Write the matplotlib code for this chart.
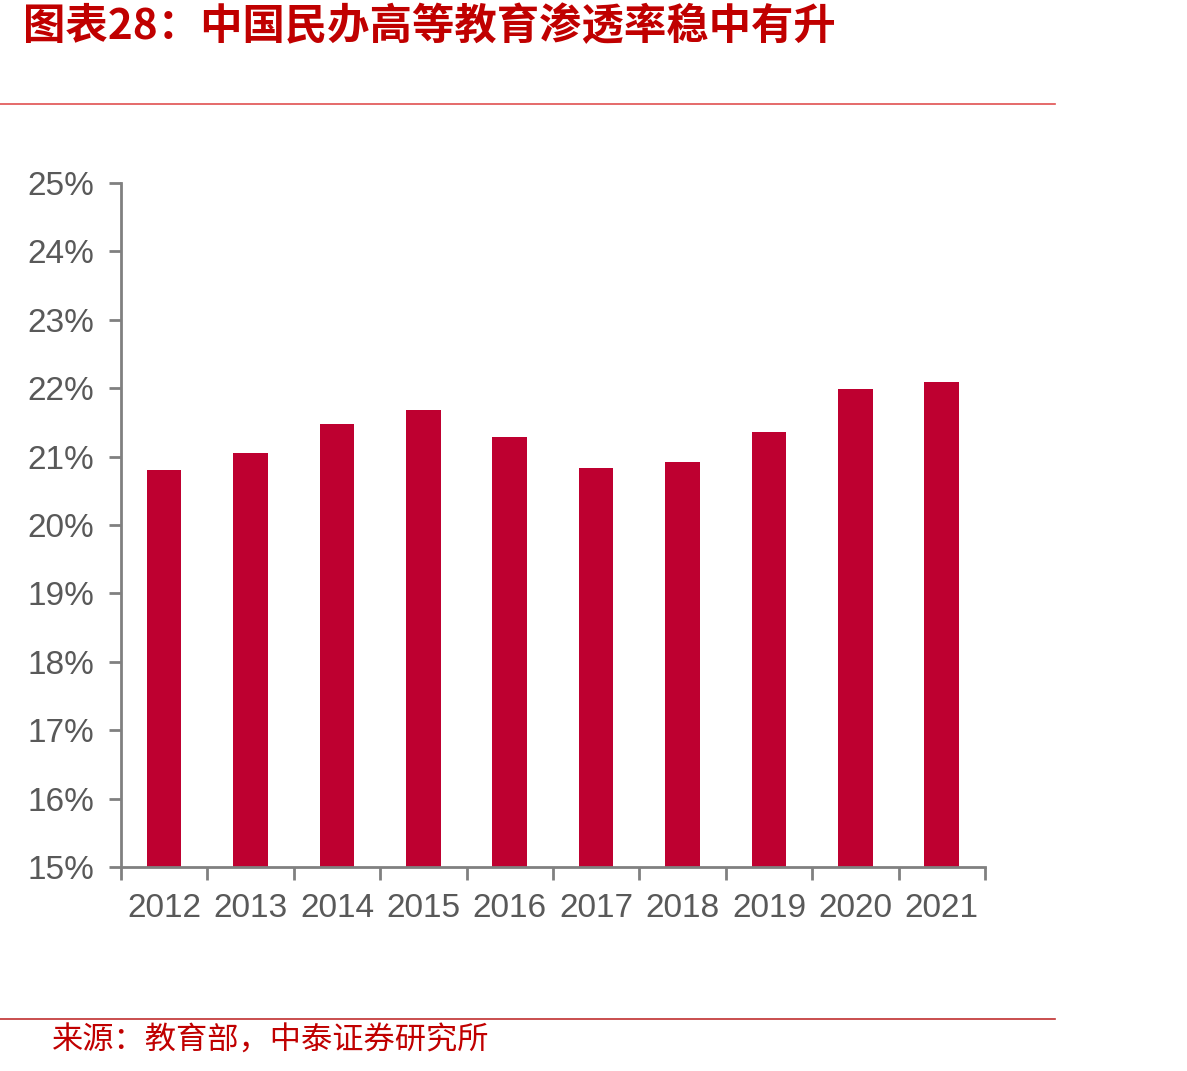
import matplotlib
matplotlib.use("Agg")
import matplotlib.pyplot as plt
import numpy as np

plt.rcParams['font.family'] = ['Liberation Sans', 'Noto Sans CJK SC', 'DejaVu Sans']

years = ["2012", "2013", "2014", "2015", "2016", "2017", "2018", "2019", "2020", "2021"]
rate = [20.80, 21.05, 21.48, 21.68, 21.29, 20.83, 20.92, 21.36, 21.99, 22.09]
y_ticks = [15, 16, 17, 18, 19, 20, 21, 22, 23, 24, 25]

title = "图表28：中国民办高等教育渗透率稳中有升"
source = "来源：教育部，中泰证券研究所"

fig = plt.figure(figsize=(11.87, 10.71), dpi=100)
ax = fig.add_axes([0.1019, 0.1905, 0.7279, 0.6386])

x = np.arange(len(years))
ax.bar(x, rate, width=0.4, color="#BE0030")

ax.set_xlim(-0.5, len(years) - 0.5)
ax.set_ylim(15, 25)
ax.set_yticks(y_ticks)
ax.set_yticklabels([f"{v}%" for v in y_ticks])
ax.set_xticks(np.arange(len(years) + 1) - 0.5)
ax.set_xticklabels([])
ax.set_xticks(x, minor=True)
ax.set_xticklabels(years, minor=True)
ax.tick_params(axis="x", which="minor", length=0, pad=19)
ax.tick_params(axis="x", which="major", length=9, width=2, color="#808080", direction="out")
ax.tick_params(axis="y", length=9, width=2, color="#808080", direction="out", pad=10)
for lbl in ax.get_xticklabels(minor=True) + ax.get_yticklabels():
    lbl.set_fontsize(24)
    lbl.set_color("#595959")

for s in ["top", "right"]:
    ax.spines[s].set_visible(False)
for s in ["left", "bottom"]:
    ax.spines[s].set_color("#808080")
    ax.spines[s].set_linewidth(2)

fig.text(0.019, 1 - 27 / 1071, title, fontsize=30.5, fontweight="bold", color="#C00000",
         family=["Noto Sans CJK SC", "DejaVu Sans"], va="center", ha="left", style="italic")
fig.add_artist(plt.Line2D([0, 1055 / 1187], [1 - 104 / 1071] * 2, color="#E05050", lw=1.2))
fig.add_artist(plt.Line2D([0, 1055 / 1187], [1 - 1019 / 1071] * 2, color="#C03030", lw=1.2))
fig.text(0.044, 1 - 1041 / 1071, source, fontsize=22.5, color="#C00000",
         family=["Noto Sans CJK SC", "DejaVu Sans"], va="center", ha="left")

fig.savefig("out.png", dpi=100)
